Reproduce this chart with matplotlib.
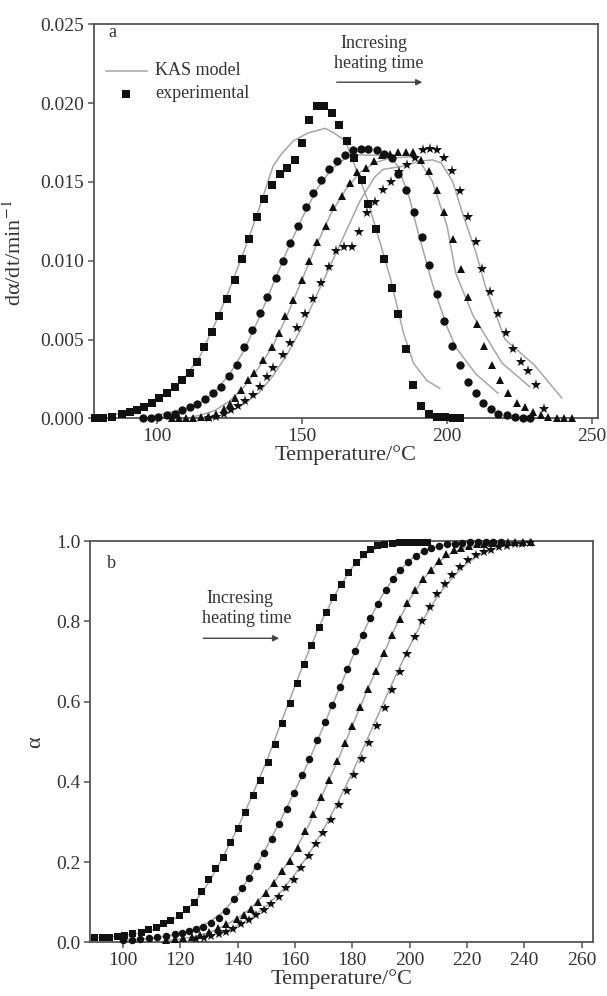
import matplotlib
matplotlib.use("Agg")
import matplotlib.pyplot as plt

plt.rcParams['font.family'] = ['Liberation Serif', 'DejaVu Serif']
plt.rcParams['mathtext.fontset'] = 'stix'

# ---- panel a: conversion rate ----
sq_T_a = [78.6, 81.5, 84.4, 87.8, 90.7, 93.0, 95.6, 98.2, 100.7, 103.6, 106.2, 108.7, 111.4, 113.7,
          116.3, 119.0, 121.5, 124.0, 126.9, 129.4, 131.8, 134.4, 137.0, 139.8, 142.4, 144.9, 147.4,
          149.9, 152.5, 155.2, 157.7, 160.2, 162.7, 165.4, 167.9, 170.6, 172.9, 175.5, 178.3, 180.9,
          183.2, 185.8, 188.4, 191.0, 193.6, 196.4, 199.3, 202.2, 204.5]
sq_Y_a = [0.0000, 0.0000, 0.0001, 0.0003, 0.0004, 0.0005, 0.0007, 0.0010, 0.0013, 0.0016, 0.0020,
          0.0024, 0.0029, 0.0036, 0.0045, 0.0055, 0.0065, 0.0076, 0.0088, 0.0101, 0.0114, 0.0128,
          0.0139, 0.0148, 0.0155, 0.0159, 0.0164, 0.0175, 0.0189, 0.0198, 0.0198, 0.0194, 0.0186,
          0.0176, 0.0165, 0.0151, 0.0136, 0.0120, 0.0101, 0.0083, 0.0066, 0.0044, 0.0021, 0.0008,
          0.0003, 0.0001, 0.0001, 0.0000, 0.0000]

ci_T_a = [95.3, 98.0, 100.5, 103.3, 106.2, 108.7, 111.4, 113.9, 116.6, 119.2, 122.1, 124.8, 127.5,
          130.0, 132.9, 135.5, 138.0, 140.9, 143.5, 145.8, 148.7, 151.4, 153.9, 156.5, 159.3, 161.9,
          164.8, 167.5, 170.2, 172.9, 175.7, 178.3, 180.9, 183.2, 185.9, 188.6, 191.3, 193.9, 196.4,
          199.1, 201.8, 204.5, 207.1, 209.9, 212.5, 215.2, 217.7, 220.6, 223.4, 226.1, 228.6]
ci_Y_a = [0.0000, 0.0000, 0.0001, 0.0002, 0.0003, 0.0005, 0.0007, 0.0009, 0.0012, 0.0016, 0.0020,
          0.0027, 0.0034, 0.0045, 0.0056, 0.0067, 0.0077, 0.0089, 0.0100, 0.0111, 0.0122, 0.0134,
          0.0143, 0.0151, 0.0158, 0.0163, 0.0167, 0.0170, 0.0171, 0.0171, 0.0170, 0.0168, 0.0165,
          0.0155, 0.0145, 0.0131, 0.0115, 0.0097, 0.0079, 0.0062, 0.0046, 0.0034, 0.0023, 0.0016,
          0.0010, 0.0006, 0.0003, 0.0002, 0.0001, 0.0000, 0.0000]

tr_T_a = [105.0, 107.5, 110.0, 112.5, 115.0, 117.5, 120.3, 123.0, 125.0, 127.0, 129.0, 131.4, 133.6,
          136.6, 139.7, 142.1, 144.1, 147.0, 149.9, 152.5, 155.3, 158.1, 160.8, 163.7, 166.5, 169.1,
          172.1, 174.8, 177.5, 180.3, 183.2, 185.9, 188.1, 190.9, 193.9, 196.4, 199.1, 201.9, 204.7,
          207.3, 210.2, 212.9, 215.6, 218.3, 221.1, 224.0, 226.9, 229.5, 232.3, 234.9, 237.8, 240.3, 243.0]
tr_Y_a = [0.0000, 0.0000, 0.0000, 0.0000, 0.0001, 0.0001, 0.0003, 0.0006, 0.0009, 0.0013, 0.0018,
          0.0024, 0.0029, 0.0037, 0.0045, 0.0054, 0.0065, 0.0075, 0.0088, 0.0100, 0.0112, 0.0122,
          0.0134, 0.0141, 0.0149, 0.0156, 0.0159, 0.0163, 0.0167, 0.0168, 0.0169, 0.0169, 0.0169,
          0.0164, 0.0157, 0.0145, 0.0131, 0.0114, 0.0095, 0.0077, 0.0060, 0.0046, 0.0034, 0.0024,
          0.0016, 0.0010, 0.0007, 0.0004, 0.0002, 0.0001, 0.0000, 0.0000, 0.0000]

st_T_a = [118.0, 120.5, 123.0, 125.5, 128.0, 130.5, 133.0, 135.5, 138.0, 140.1, 143.3, 145.8, 148.4,
          151.0, 153.7, 156.4, 159.3, 161.7, 164.6, 167.1, 169.6, 172.3, 175.2, 177.8, 180.7, 183.5,
          186.1, 189.0, 191.6, 194.1, 196.4, 199.1, 201.8, 204.5, 207.1, 209.9, 212.2, 214.8, 217.7,
          220.2, 222.9, 225.4, 228.0, 230.7, 233.4]
st_Y_a = [0.0000, 0.0001, 0.0003, 0.0005, 0.0008, 0.0011, 0.0015, 0.0020, 0.0026, 0.0032, 0.0040,
          0.0048, 0.0057, 0.0066, 0.0076, 0.0086, 0.0096, 0.0106, 0.0109, 0.0109, 0.0118, 0.0130,
          0.0137, 0.0145, 0.0150, 0.0156, 0.0161, 0.0165, 0.0170, 0.0171, 0.0170, 0.0165, 0.0157,
          0.0144, 0.0128, 0.0112, 0.0095, 0.0080, 0.0066, 0.0054, 0.0044, 0.0036, 0.0030, 0.0021, 0.0006]

# KAS model curves (panel a)
sqm_T_a = [85, 95, 105, 110, 115, 120, 125, 130, 135, 140, 143, 147, 152, 158, 161, 165, 167,
           172.3, 175.7, 180.3, 185, 188.4, 193, 197.5]
sqm_Y_a = [0.0002, 0.0007, 0.0018, 0.0027, 0.0040, 0.0060, 0.0082, 0.0106, 0.0132, 0.0160, 0.0168,
           0.0176, 0.0181, 0.0184, 0.0181, 0.0176, 0.0166, 0.0140, 0.0119, 0.0090, 0.0054, 0.0035,
           0.0024, 0.0019]
cim_T_a = [100, 110, 115, 120, 125, 130, 135, 140, 145, 150, 155, 160, 165, 168, 180, 183, 187, 190,
           195, 200, 203, 210, 217.5]
cim_Y_a = [0.0002, 0.0006, 0.0010, 0.0017, 0.0028, 0.0043, 0.0063, 0.0085, 0.0107, 0.0127, 0.0145,
           0.0158, 0.0165, 0.0167, 0.0167, 0.0160, 0.0140, 0.0118, 0.0085, 0.0058, 0.0045, 0.0028, 0.0016]
trm_T_a = [112, 115, 120, 125, 130, 135, 140, 145, 150, 155, 160, 165, 170, 175, 180, 188, 191, 195,
           200, 203, 209, 219, 228.5]
trm_Y_a = [0.0001, 0.0002, 0.0005, 0.0011, 0.0020, 0.0032, 0.0046, 0.0066, 0.0088, 0.0110, 0.0130,
           0.0145, 0.0156, 0.0162, 0.0165, 0.0166, 0.0162, 0.0150, 0.0122, 0.0092, 0.0065, 0.0035, 0.0020]
stm_T_a = [122, 125, 130, 135, 140, 145, 150, 155, 160, 165, 170, 175, 178, 185, 190, 195, 198, 202,
           205, 210, 213, 220, 230, 239.5]
stm_Y_a = [0.0002, 0.0004, 0.0009, 0.0016, 0.0027, 0.0041, 0.0058, 0.0078, 0.0098, 0.0118, 0.0138,
           0.0153, 0.0158, 0.0160, 0.0163, 0.0164, 0.0162, 0.0150, 0.0132, 0.0105, 0.0085, 0.0050,
           0.0034, 0.0013]

# ---- panel b: conversion ----
sq_T_b = [90.0, 92.6, 95.2, 97.8, 100.4, 103.2, 106.1, 108.7, 111.4, 113.9, 116.5, 119.5, 122.0,
          124.7, 127.2, 129.8, 132.2, 134.8, 137.4, 140.0, 142.7, 145.2, 147.8, 150.4, 153.0, 155.4,
          158.2, 160.6, 163.2, 165.7, 168.2, 170.7, 173.4, 175.9, 178.6, 181.2, 183.7, 186.1, 188.7,
          191.2, 193.7, 196.2, 198.7, 201.2, 203.7, 206.2]
sq_Y_b = [0.012, 0.013, 0.014, 0.016, 0.018, 0.022, 0.026, 0.032, 0.038, 0.047, 0.055, 0.067, 0.082,
          0.100, 0.128, 0.157, 0.184, 0.212, 0.250, 0.285, 0.325, 0.367, 0.405, 0.450, 0.495, 0.547,
          0.597, 0.647, 0.695, 0.741, 0.785, 0.824, 0.861, 0.894, 0.924, 0.948, 0.967, 0.980, 0.990,
          0.994, 0.996, 0.997, 0.998, 0.998, 0.998, 0.998]

ci_T_b = [100.0, 103.0, 106.0, 109.0, 112.0, 115.0, 118.0, 120.5, 123.0, 125.5, 128.0, 130.6, 133.3,
          136.0, 138.7, 141.4, 144.1, 146.8, 149.2, 151.9, 154.4, 157.1, 159.8, 162.5, 165.0, 167.6,
          170.3, 172.9, 175.6, 178.3, 181.0, 183.6, 186.2, 188.9, 191.6, 194.1, 196.7, 199.4, 202.1,
          204.9, 207.5, 210.2, 213.0, 215.7, 218.4, 221.1, 223.8, 226.5, 229.2, 232.0]
ci_Y_b = [0.005, 0.006, 0.008, 0.010, 0.013, 0.016, 0.020, 0.023, 0.028, 0.033, 0.038, 0.048, 0.061,
          0.078, 0.108, 0.136, 0.161, 0.190, 0.223, 0.257, 0.294, 0.332, 0.373, 0.418, 0.457, 0.505,
          0.550, 0.592, 0.637, 0.682, 0.726, 0.767, 0.809, 0.843, 0.879, 0.906, 0.929, 0.948, 0.963,
          0.975, 0.982, 0.988, 0.992, 0.994, 0.996, 0.997, 0.998, 0.998, 0.998, 0.998]

tr_T_b = [115.0, 118.0, 121.0, 124.0, 127.0, 130.0, 133.0, 136.0, 139.6, 142.3, 144.7, 147.2, 149.9,
          152.8, 155.5, 158.2, 160.9, 163.6, 166.3, 169.0, 171.7, 174.6, 177.3, 180.0, 182.7, 185.6,
          188.4, 191.0, 193.7, 196.5, 199.1, 201.8, 204.6, 207.3, 210.2, 212.7, 215.4, 218.0, 220.7,
          223.4, 226.1, 228.8, 231.5, 234.2, 236.9, 239.6, 242.3]
tr_Y_b = [0.005, 0.007, 0.010, 0.014, 0.019, 0.026, 0.035, 0.045, 0.059, 0.069, 0.084, 0.101, 0.123,
          0.148, 0.178, 0.203, 0.236, 0.278, 0.319, 0.363, 0.405, 0.452, 0.497, 0.540, 0.587, 0.632,
          0.677, 0.722, 0.765, 0.807, 0.845, 0.878, 0.905, 0.929, 0.950, 0.967, 0.978, 0.984, 0.989,
          0.992, 0.994, 0.995, 0.996, 0.997, 0.997, 0.998, 0.998]

st_T_b = [125.5, 128.1, 130.7, 133.4, 135.9, 138.5, 141.2, 143.8, 146.4, 149.0, 151.6, 154.3, 156.8,
          159.5, 162.0, 164.7, 167.3, 169.9, 172.7, 175.4, 178.0, 180.6, 183.3, 185.8, 188.5, 191.3,
          193.9, 196.5, 199.1, 201.8, 204.4, 207.0, 209.6, 212.2, 214.8, 217.7, 220.4, 223.1, 225.8,
          228.5, 231.2, 233.9, 236.6, 239.3, 242.0]
st_Y_b = [0.008, 0.011, 0.015, 0.020, 0.026, 0.034, 0.045, 0.055, 0.067, 0.080, 0.096, 0.113, 0.134,
          0.155, 0.184, 0.214, 0.244, 0.272, 0.304, 0.341, 0.378, 0.416, 0.456, 0.497, 0.539, 0.585,
          0.628, 0.674, 0.718, 0.761, 0.801, 0.836, 0.868, 0.894, 0.915, 0.936, 0.953, 0.965, 0.973,
          0.979, 0.985, 0.989, 0.992, 0.994, 0.996]

# KAS model curves (panel b)
sqm_T_b = [88.6, 95, 100, 105, 110, 115, 120, 125, 130, 135, 140, 145, 150, 155, 160, 165, 170, 175,
           180, 185, 190, 195, 200, 205]
sqm_Y_b = [0.010, 0.013, 0.017, 0.022, 0.030, 0.045, 0.068, 0.100, 0.150, 0.215, 0.285, 0.365, 0.450,
           0.545, 0.640, 0.730, 0.812, 0.880, 0.935, 0.970, 0.988, 0.995, 0.998, 1.0]
cim_T_b = [100, 110, 115, 120, 125, 130, 135, 140, 145, 150, 155, 160, 165, 170, 175, 180, 185, 190,
           195, 200, 205, 210, 215, 220, 225]
cim_Y_b = [0.004, 0.010, 0.015, 0.022, 0.033, 0.050, 0.076, 0.118, 0.172, 0.236, 0.305, 0.378, 0.455,
           0.540, 0.625, 0.710, 0.790, 0.860, 0.915, 0.953, 0.976, 0.988, 0.995, 0.998, 1.0]
trm_T_b = [115, 120, 125, 130, 135, 140, 145, 150, 155, 160, 165, 170, 175, 180, 185, 190, 195, 200,
           205, 210, 215, 220, 230, 240]
trm_Y_b = [0.004, 0.008, 0.014, 0.024, 0.040, 0.060, 0.087, 0.125, 0.172, 0.228, 0.295, 0.375, 0.455,
           0.540, 0.625, 0.705, 0.785, 0.855, 0.908, 0.948, 0.972, 0.986, 0.996, 1.0]
stm_T_b = [136, 140, 145, 150, 155, 160, 165, 170, 175, 180, 185, 190, 195, 200, 205, 210, 215, 220,
           225, 230, 235, 241]
stm_Y_b = [0.028, 0.042, 0.062, 0.090, 0.125, 0.170, 0.222, 0.282, 0.350, 0.423, 0.503, 0.583, 0.663,
           0.738, 0.808, 0.866, 0.910, 0.945, 0.968, 0.983, 0.993, 1.0]

x_ticks_a = [100, 150, 200, 250]
y_ticks_a = [0.000, 0.005, 0.010, 0.015, 0.020, 0.025]
x_ticks_b = [100, 120, 140, 160, 180, 200, 220, 240, 260]
y_ticks_b = [0.0, 0.2, 0.4, 0.6, 0.8, 1.0]

TXT = '#333333'
LINE = '#a6a6a6'
SPINE = '#555555'

fig = plt.figure(figsize=(6.07, 9.96), dpi=100)
ax1 = fig.add_axes([0.155, 0.580, 0.830, 0.3956])
ax2 = fig.add_axes([0.149, 0.054, 0.828, 0.4026])


def style(ax):
    for s in ax.spines.values():
        s.set_color(SPINE)
        s.set_linewidth(1.3)
    ax.tick_params(direction='out', length=4, width=1.1, color=SPINE,
                   labelsize=14, labelcolor=TXT, pad=3)


def draw(ax, sets, models, ms_scale=1.0):
    for T, Y in models:
        ax.plot(T, Y, color=LINE, lw=1.1, zorder=2)
    for (T, Y), mk, ms in zip(sets, ['s', 'o', '^', '*'], [5.6, 6.0, 6.4, 8.0]):
        ax.plot(T, Y, ls='none', marker=mk, ms=ms * ms_scale, color='#111111',
                markeredgewidth=0, zorder=3, clip_on=False)


# panel a
draw(ax1, [(sq_T_a, sq_Y_a), (ci_T_a, ci_Y_a), (tr_T_a, tr_Y_a), (st_T_a, st_Y_a)],
     [(sqm_T_a, sqm_Y_a), (cim_T_a, cim_Y_a), (trm_T_a, trm_Y_a), (stm_T_a, stm_Y_a)])
ax1.set_xlim(78.3, 252)
ax1.set_ylim(0, 0.025)
ax1.set_xticks(x_ticks_a)
ax1.set_yticks(y_ticks_a)
ax1.set_yticklabels([f'{v:.3f}' for v in y_ticks_a])
style(ax1)
ax1.set_xlabel('Temperature/°C', fontsize=16, color=TXT, labelpad=0)
ax1.set_ylabel('dα/dt/min$^{-1}$', fontsize=16, color=TXT)
ax1.yaxis.set_label_coords(-0.135, 0.42)

ax1.text(0.036, 0.978, 'a', transform=ax1.transAxes, fontsize=13, color=TXT, va='center', ha='center')
ax1.plot([0.024, 0.105], [0.8815, 0.8815], transform=ax1.transAxes, color=LINE, lw=1.1)
ax1.plot([0.063], [0.824], transform=ax1.transAxes, marker='s', ms=5.6, color='#111111', mew=0)
ax1.text(0.121, 0.8815, 'KAS model', transform=ax1.transAxes, fontsize=13, color=TXT, va='center')
ax1.text(0.121, 0.824, 'experimental', transform=ax1.transAxes, fontsize=13, color=TXT, va='center')
ax1.text(0.555, 0.952, 'Incresing', transform=ax1.transAxes, fontsize=13, color=TXT,
         va='center', ha='center')
ax1.text(0.565, 0.901, 'heating time', transform=ax1.transAxes, fontsize=13, color=TXT,
         va='center', ha='center')
ax1.annotate('', xy=(0.657, 0.853), xytext=(0.476, 0.853), xycoords='axes fraction',
             arrowprops=dict(arrowstyle='-|>', color='#444444', lw=1.0, mutation_scale=9))

# panel b
draw(ax2, [(sq_T_b, sq_Y_b), (ci_T_b, ci_Y_b), (tr_T_b, tr_Y_b), (st_T_b, st_Y_b)],
     [(sqm_T_b, sqm_Y_b), (cim_T_b, cim_Y_b), (trm_T_b, trm_Y_b), (stm_T_b, stm_Y_b)],
     ms_scale=0.9)
ax2.set_xlim(88.6, 264)
ax2.set_ylim(0, 1.0)
ax2.set_xticks(x_ticks_b)
ax2.set_yticks(y_ticks_b)
ax2.set_yticklabels([f'{v:.1f}' for v in y_ticks_b])
style(ax2)
ax2.set_xlabel('Temperature/°C', fontsize=16, color=TXT, labelpad=0)
ax2.set_ylabel('α', fontsize=16, color=TXT)
ax2.yaxis.set_label_coords(-0.09, 0.5)

ax2.text(0.042, 0.945, 'b', transform=ax2.transAxes, fontsize=13, color=TXT, va='center', ha='center')
ax2.text(0.297, 0.857, 'Incresing', transform=ax2.transAxes, fontsize=13, color=TXT,
         va='center', ha='center')
ax2.text(0.311, 0.807, 'heating time', transform=ax2.transAxes, fontsize=13, color=TXT,
         va='center', ha='center')
ax2.annotate('', xy=(0.381, 0.758), xytext=(0.219, 0.758), xycoords='axes fraction',
             arrowprops=dict(arrowstyle='-|>', color='#444444', lw=1.0, mutation_scale=9))

fig.savefig('out.png', dpi=100)
